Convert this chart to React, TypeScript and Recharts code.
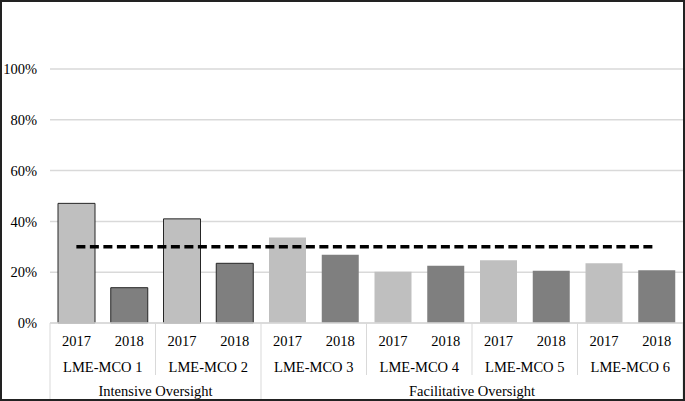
import React from "react";
import {
  Bar,
  CartesianGrid,
  Cell,
  ComposedChart,
  Line,
  XAxis,
  YAxis,
} from "recharts";

// values, in percent
const years = ["2017", "2018"];
const mcos = ["LME-MCO 1", "LME-MCO 2", "LME-MCO 3", "LME-MCO 4", "LME-MCO 5", "LME-MCO 6"];
const oversightGroups = ["Intensive Oversight", "Facilitative Oversight"];
const mcoGroup = [0, 0, 1, 1, 1, 1];
const values2017 = [47.1, 41.0, 33.7, 20.2, 24.7, 23.5];
const values2018 = [13.9, 23.5, 26.9, 22.5, 20.6, 20.8];
const benchmark = 30;
const yTicks = [0, 20, 40, 60, 80, 100];

const data = mcos.flatMap((mco, i) =>
  years.map((year, j) => ({
    year,
    mco,
    group: oversightGroups[mcoGroup[i]],
    value: j === 0 ? values2017[i] : values2018[i],
    target: benchmark,
  }))
);

const groupSize = (name: string) => data.filter((d) => d.group === name).length;

const FONT = "'Liberation Serif', 'Times New Roman', serif";
const GRID = "#d9d9d9";
const colors = { "2017": "#bfbfbf", "2018": "#7f7f7f" } as Record<string, string>;

const CategoryTick = (props: any) => {
  const { x, y, index, payload } = props;
  const half = payload?.offset || 26.4;
  const row = data[index];
  if (!row) return null;
  const left = x - half;
  const firstOfMco = index === 0 || data[index - 1].mco !== row.mco;
  const firstOfGroup = index === 0 || data[index - 1].group !== row.group;
  const isLast = index === data.length - 1;
  const textProps = { fontFamily: FONT, fontSize: 14.5, fill: "#000", textAnchor: "middle" as const };
  return (
    <g>
      <text x={x} y={y + 23} {...textProps}>
        {row.year}
      </text>
      {firstOfMco && (
        <>
          <line x1={left} x2={left} y1={y} y2={y + (firstOfGroup ? 78 : 52)} stroke={GRID} />
          <text x={left + half * 2} y={y + 49} {...textProps}>
            {row.mco}
          </text>
        </>
      )}
      {firstOfGroup && (
        <text x={left + half * groupSize(row.group)} y={y + 72.5} {...textProps}>
          {row.group}
        </text>
      )}
      {isLast && <line x1={x + half} x2={x + half} y1={y} y2={y + 78} stroke={GRID} />}
    </g>
  );
};

export default function App() {
  return (
    <div style={{ position: "absolute", left: 0, top: 0, width: 685, height: 401, background: "#fff" }}>
      <ComposedChart
        width={685}
        height={401}
        data={data}
        margin={{ top: 69, right: 2, bottom: 0, left: 0 }}
        barCategoryGap={8}
      >
        <CartesianGrid vertical={false} stroke={GRID} strokeWidth={1.5} />
        <XAxis
          dataKey="year"
          interval={0}
          allowDuplicatedCategory
          axisLine={{ stroke: GRID, strokeWidth: 1.5 }}
          tickLine={false}
          tickSize={0}
          tickMargin={0}
          height={78}
          tick={<CategoryTick />}
        />
        <YAxis
          width={50}
          domain={[0, 100]}
          ticks={yTicks}
          axisLine={false}
          tickLine={false}
          tickMargin={7}
          tickFormatter={(v) => `${v}%`}
          tick={{ fontFamily: FONT, fontSize: 14.5, fill: "#000" }}
        />
        <Bar dataKey="value" isAnimationActive={false}>
          {data.map((d, i) => (
            <Cell
              key={i}
              fill={colors[d.year]}
              stroke={d.group === oversightGroups[0] ? "#262626" : "none"}
              strokeWidth={1}
            />
          ))}
        </Bar>
        <Line
          dataKey="target"
          stroke="#000"
          strokeWidth={3.5}
          strokeDasharray="9 4.5"
          dot={false}
          activeDot={false}
          isAnimationActive={false}
        />
      </ComposedChart>
      <div
        style={{
          position: "absolute",
          inset: 0,
          border: "2px solid #222",
          pointerEvents: "none",
        }}
      />
    </div>
  );
}
